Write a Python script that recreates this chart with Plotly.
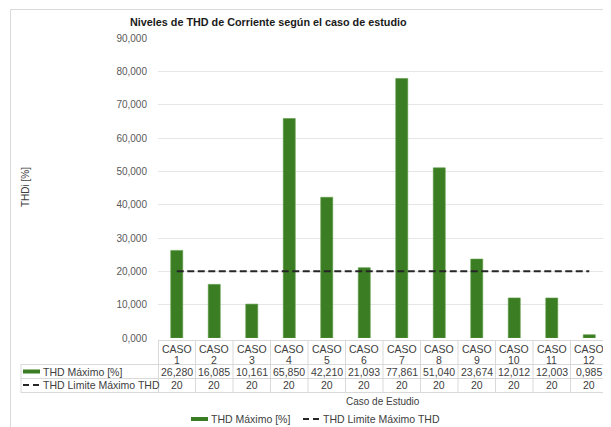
import plotly.graph_objects as go

categories = ["CASO 1", "CASO 2", "CASO 3", "CASO 4", "CASO 5", "CASO 6",
              "CASO 7", "CASO 8", "CASO 9", "CASO 10", "CASO 11", "CASO 12"]
thd_max = [26.280, 16.085, 10.161, 65.850, 42.210, 21.093,
           77.861, 51.040, 23.674, 12.012, 12.003, 0.985]
thd_limit = [20] * 12
series_names = ["THD Máximo [%]", "THD Limite Máximo THD"]
title_text = "Niveles de THD de Corriente según el caso de estudio"
y_title = "THDi [%]"
x_title = "Caso de Estudio"

# page body has an 8px margin: figure occupies screen 8..611 x 8..427
OFF = 8
W, H = 611 - OFF, 427 - OFF
PL, PR, PT, PB = 158, 608, 38, 338          # plot area in screen pixels
L, R, T, B = PL - OFF, W - (PR - OFF), PT - OFF, H - (PB - OFF)
PW, PH = PR - PL, PB - PT

def px(x):
    return (x - PL) / PW

def py(y):
    return (PB - y) / PH

GREEN = "#3b7d23"
LINE = "#262626"
GRID = "#d9d9d9"
TXT = "#404040"
FONT = "Liberation Sans, Arial, sans-serif"

fig = go.Figure()
fig.add_trace(go.Bar(x=categories, y=thd_max, name=series_names[0],
                     marker=dict(color=GREEN, line=dict(color="#5a9a44", width=0.6)),
                     width=0.32, showlegend=False))
fig.add_trace(go.Scatter(x=categories, y=thd_limit, name=series_names[1], mode="lines",
                         line=dict(color=LINE, width=2, dash="7px,3.5px"),
                         showlegend=False))

shapes = []
ann = []

def hline(y, x0, x1):
    shapes.append(dict(type="line", xref="paper", yref="paper",
                       x0=px(x0), x1=px(x1), y0=py(y), y1=py(y),
                       line=dict(color=GRID, width=1)))

def vline(x, y0, y1):
    shapes.append(dict(type="line", xref="paper", yref="paper",
                       x0=px(x), x1=px(x), y0=py(y0), y1=py(y1),
                       line=dict(color=GRID, width=1)))

def text(x, y, s, size=10.5, xanchor="center", color=TXT, xref="paper", angle=0):
    ann.append(dict(x=x, xref=xref, y=py(y), yref="paper", text=s, showarrow=False,
                    xanchor=xanchor, yanchor="middle", textangle=angle,
                    font=dict(size=size, color=color)))

# outer chart border
shapes.append(dict(type="rect", xref="paper", yref="paper",
                   x0=px(10.5), x1=px(640), y0=py(9.5), y1=py(460),
                   line=dict(color=GRID, width=1), fillcolor="rgba(0,0,0,0)", layer="below"))

# data table grid
tab_top, r1, r2, r3 = 340.5, 364.5, 378.5, 392.5
hline(tab_top, PL, PR)
hline(r1, 21, PR)
hline(r2, 21, PR)
hline(r3, 21, PR)
vline(21, r1, r3)
n = len(categories)
for i in range(n + 1):
    vline(PL + i * PW / n + (0.5 if i == 0 else 0) - (0.5 if i == n else 0), tab_top, r3)

for i, c in enumerate(categories):
    word, num = c.split(" ")
    text(c, 348.5, word, xref="x")
    text(c, 359.5, num, xref="x")
    text(c, 371.5, f"{thd_max[i]:.3f}".replace(".", ","), xref="x")
    text(c, 385, str(thd_limit[i]), xref="x")

# table row legend keys
shapes.append(dict(type="rect", xref="paper", yref="paper", x0=px(23), x1=px(40),
                   y0=py(369.5), y1=py(373.5), fillcolor=GREEN, line=dict(width=0)))
shapes.append(dict(type="line", xref="paper", yref="paper", x0=px(23), x1=px(40),
                   y0=py(385), y1=py(385), line=dict(color=LINE, width=2, dash="6px,4px")))
text(px(41), 371.5, series_names[0], xanchor="left")
text(px(41), 385, series_names[1], xanchor="left")

# bottom legend
shapes.append(dict(type="rect", xref="paper", yref="paper", x0=px(191), x1=px(208),
                   y0=py(417), y1=py(421), fillcolor=GREEN, line=dict(width=0)))
shapes.append(dict(type="line", xref="paper", yref="paper", x0=px(303), x1=px(320),
                   y0=py(419), y1=py(419), line=dict(color=LINE, width=2, dash="6px,4px")))
text(px(209), 419, series_names[0], xanchor="left")
text(px(321), 419, series_names[1], xanchor="left")

# titles
text(px(268), 22, f"<b>{title_text}</b>", size=10.8, color="#1a1a1a")
text(px(25), 187, y_title, size=10, angle=-90)
text(px(383), 401, x_title, size=10)

fig.update_layout(
    width=W, height=H,
    margin=dict(l=L, r=R, t=T, b=B, pad=0),
    paper_bgcolor="white", plot_bgcolor="white",
    separators=",.",
    font=dict(family=FONT, size=10, color=TXT),
    xaxis=dict(showticklabels=False, showgrid=False, zeroline=False, showline=False,
               ticks="", range=[-0.5, n - 0.5]),
    yaxis=dict(range=[0, 90], dtick=10, tickformat=".3f", showgrid=True, gridcolor="#e6e6e6",
               gridwidth=1, zeroline=False, showline=False, ticks="", ticklabelstandoff=10,
               tickfont=dict(size=10, color="#595959")),
    shapes=shapes, annotations=ann, bargap=0.68,
)

fig.write_html("out.html")
